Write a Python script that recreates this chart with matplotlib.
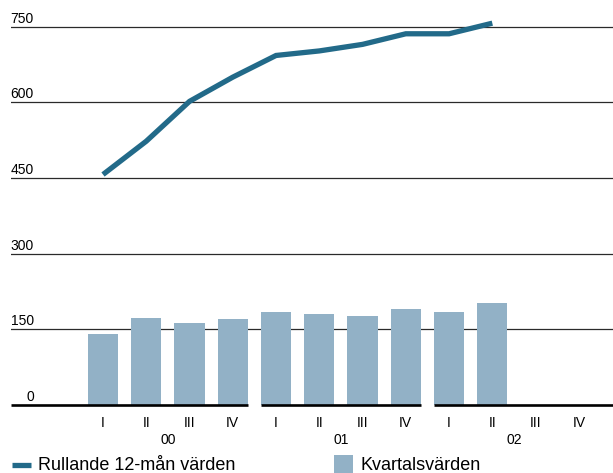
import matplotlib.pyplot as plt
from matplotlib.lines import Line2D
from matplotlib.patches import Rectangle

plt.rcParams['font.family'] = ['Liberation Sans', 'DejaVu Sans']

# data
kvartal = ['I', 'II', 'III', 'IV'] * 3
years = ['00', '01', '02']
kvartalsvarden = [141, 172, 163, 171, 184, 180, 176, 190, 184, 202]
rullande = [457, 523, 602, 650, 693, 702, 715, 736, 736, 757]
yticks = [0, 150, 300, 450, 600, 750]

bar_color = '#92b1c6'
line_color = '#226a89'

W, H = 613, 473
fig = plt.figure(figsize=(W / 100, H / 100), dpi=100)
ax = fig.add_axes([11 / W, (H - 405) / H, 602 / W, 403.5 / H])

x = list(range(len(kvartal)))
xb = x[:len(kvartalsvarden)]
bw = 0.7

ax.bar(xb, kvartalsvarden, width=bw, color=bar_color, zorder=2)
ax.plot(xb, rullande, color=line_color, lw=3.8, solid_capstyle='butt',
        solid_joinstyle='miter', zorder=3)

ax.set_xlim(-2.127, 11.79)
ax.set_ylim(0, 800)

# gridlines + labels sitting on top of them
for v in yticks[1:]:
    ax.axhline(v, color='#2a2a2a', lw=0.9, zorder=1)
for v in yticks:
    ax.annotate(str(v), xy=(0.038, v), xycoords=('axes fraction', 'data'),
                xytext=(0, 3), textcoords='offset points',
                ha='right', va='baseline', fontsize=10)

# broken baseline, one piece per year
xl, xr = ax.get_xlim()
segs = [(xl, 3 + bw / 2), (4 - bw / 2, 7 + bw / 2), (8 - bw / 2, xr)]
for a, b in segs:
    ax.plot([a, b], [0, 0], color='black', lw=1.9, solid_capstyle='butt',
            zorder=4, clip_on=False)

ax.set_xticks(x)
ax.set_xticklabels(kvartal, fontsize=10)
ax.tick_params(axis='x', length=0, pad=8)
ax.set_yticks([])
for s in ax.spines.values():
    s.set_visible(False)

for i, yr in enumerate(years):
    ax.annotate(yr, xy=(4 * i + 1.5, 0), xycoords='data',
                xytext=(0, -20.5), textcoords='offset points',
                ha='center', va='top', fontsize=10)

# legend
def fx(px):
    return px / W

def fy(py):
    return (H - py) / H

fig.add_artist(Line2D([fx(12), fx(31)], [fy(464.5), fy(464.5)],
                      color=line_color, lw=3.8, solid_capstyle='butt'))
fig.text(fx(38), fy(470), 'Rullande 12-mån värden', fontsize=13,
         va='baseline', ha='left')
fig.add_artist(Rectangle((fx(334), fy(476)), fx(19), (476 - 455) / H,
                         color=bar_color, lw=0))
fig.text(fx(360), fy(470), 'Kvartalsvärden', fontsize=13,
         va='baseline', ha='left')

fig.savefig('out.png', dpi=100)
